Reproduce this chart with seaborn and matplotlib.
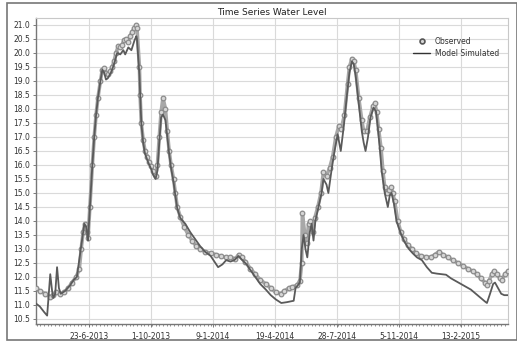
import datetime as dt
import numpy as np
import pandas as pd
import matplotlib
matplotlib.use("Agg")
import matplotlib.pyplot as plt
import matplotlib.dates as mdates
from matplotlib.lines import Line2D
from matplotlib.patches import Rectangle
from matplotlib.ticker import MultipleLocator, FormatStrFormatter
import seaborn as sns

# ---------------- data (days since start date, water level) ----------------
start_date = "2013-03-29"
end_date = "2015-04-30"

obs_day = [0, 6, 15, 23, 28, 32, 39, 45, 52, 58, 65, 70, 73, 76, 79, 83, 84, 87, 91, 94,
           97, 100, 104, 107, 110, 113, 116, 120, 123, 126, 129, 133, 136, 139, 142, 146, 149, 152, 155, 159,
           162, 163, 167, 168, 170, 173, 176, 180, 183, 186, 189, 193, 196, 199, 202, 205, 209, 212, 215, 218,
           222, 225, 228, 233, 239, 246, 252, 259, 265, 273, 282, 290, 298, 306, 314, 322, 327, 332, 338, 346,
           354, 362, 371, 379, 387, 395, 401, 408, 414, 421, 426, 429, 430, 434, 437, 440, 443, 447, 450, 455,
           460, 464, 469, 474, 479, 484, 489, 493, 498, 503, 506, 510, 513, 516, 521, 526, 529, 534, 539, 544,
           547, 550, 553, 557, 560, 563, 566, 570, 573, 576, 579, 584, 589, 594, 600, 607, 613, 621, 629, 637,
           644, 650, 657, 665, 673, 681, 689, 697, 705, 712, 718, 725, 728, 731, 736, 739, 744, 749, 752, 757,
           762]
obs_level = [11.6, 11.5, 11.4, 11.3, 11.35, 11.45, 11.4, 11.45, 11.6, 11.8, 12.0, 12.3, 13.0, 13.6, 13.9, 13.6, 13.4, 14.5, 16.0, 17.0,
             17.8, 18.4, 19.0, 19.4, 19.45, 19.3, 19.25, 19.35, 19.5, 19.7, 20.0, 20.25, 20.2, 20.3, 20.45, 20.5, 20.4, 20.6, 20.75, 20.9,
             21.0, 20.9, 19.5, 18.5, 17.5, 16.9, 16.5, 16.3, 16.1, 15.95, 15.8, 15.6, 16.0, 17.0, 17.9, 18.4, 18.0, 17.2, 16.5, 16.0,
             15.5, 15.0, 14.5, 14.15, 13.8, 13.5, 13.3, 13.1, 13.0, 12.9, 12.85, 12.8, 12.75, 12.7, 12.7, 12.65, 12.8, 12.7, 12.55, 12.3,
             12.1, 11.9, 11.75, 11.6, 11.45, 11.4, 11.5, 11.6, 11.65, 11.7, 11.85, 12.5, 14.3, 13.5, 13.2, 13.9, 14.0, 13.6, 14.1, 14.5,
             15.0, 15.75, 15.6, 15.9, 16.3, 17.0, 17.4, 17.3, 17.8, 18.9, 19.5, 19.8, 19.7, 19.4, 18.4, 17.6, 17.2, 17.2, 17.7, 18.1,
             18.2, 17.9, 17.3, 16.6, 15.8, 15.2, 15.0, 15.1, 15.2, 15.0, 14.7, 14.0, 13.6, 13.35, 13.15, 13.0, 12.85, 12.75, 12.72, 12.7,
             12.8, 12.9, 12.8, 12.7, 12.6, 12.5, 12.4, 12.3, 12.2, 12.1, 11.95, 11.8, 11.7, 11.85, 12.1, 12.2, 12.1, 11.95, 11.9, 12.1,
             12.2]

sim_day = [0, 6, 13, 18, 23, 26, 28, 31, 34, 37, 40, 47, 55, 61, 66, 71, 78, 81, 84, 87,
           91, 94, 97, 100, 104, 107, 110, 113, 116, 121, 126, 131, 136, 141, 144, 149, 154, 159, 162, 163,
           167, 170, 173, 176, 181, 186, 189, 193, 196, 199, 202, 205, 209, 212, 215, 218, 222, 225, 228, 233,
           241, 249, 257, 265, 273, 282, 288, 294, 301, 307, 314, 320, 327, 333, 340, 346, 354, 362, 371, 379,
           387, 396, 405, 416, 419, 426, 429, 432, 435, 438, 442, 445, 448, 451, 456, 461, 464, 469, 472, 477,
           482, 487, 492, 497, 502, 506, 510, 513, 516, 521, 526, 529, 532, 536, 540, 545, 549, 552, 555, 558,
           563, 568, 571, 574, 578, 582, 589, 595, 602, 608, 615, 623, 631, 639, 647, 655, 662, 670, 678, 686,
           694, 702, 710, 718, 725, 728, 733, 738, 741, 746, 751, 756, 762]
sim_level = [11.05, 10.95, 10.75, 10.62, 12.1, 11.5, 11.25, 11.4, 12.35, 11.6, 11.4, 11.5, 11.7, 11.9, 12.0, 12.8, 13.9, 13.8, 13.3, 14.5,
             16.0, 17.0, 17.8, 18.4, 19.0, 19.4, 19.3, 19.05, 19.1, 19.3, 19.6, 20.0, 19.95, 20.1, 19.95, 20.2, 20.1, 20.45, 20.6, 20.5,
             19.2, 17.5, 16.8, 16.4, 16.1, 15.85, 15.65, 15.5, 15.8, 16.8, 17.7, 17.8, 17.6, 17.0, 16.4, 15.9, 15.4, 14.9, 14.45, 14.1,
             13.9, 13.6, 13.35, 13.1, 12.9, 12.75, 12.55, 12.35, 12.45, 12.6, 12.55, 12.6, 12.75, 12.6, 12.45, 12.25, 12.0, 11.75, 11.55, 11.35,
             11.2, 11.07, 11.1, 11.15, 11.6, 11.8, 13.0, 13.5, 13.0, 12.7, 13.6, 13.9, 13.3, 14.0, 14.5, 15.0, 15.5, 15.3, 15.0, 15.8,
             16.5, 17.1, 16.5, 17.4, 18.5, 19.3, 19.7, 19.6, 19.2, 18.2, 17.2, 16.8, 16.5, 17.0, 17.7, 18.05, 17.9, 17.3, 16.6, 15.8,
             15.0, 14.5, 14.9, 15.0, 14.6, 14.0, 13.55, 13.25, 13.0, 12.85, 12.7, 12.6, 12.35, 12.15, 12.12, 12.1, 12.08, 11.95, 11.85, 11.75,
             11.65, 11.55, 11.4, 11.25, 11.12, 11.07, 11.4, 11.75, 11.8, 11.6, 11.4, 11.35, 11.35]

tick_dates = ["2013-06-23", "2013-10-01", "2014-01-09", "2014-04-19",
              "2014-07-28", "2014-11-05", "2015-02-13"]
tick_labels = ["23-6-2013", "1-10-2013", "9-1-2014", "19-4-2014",
               "28-7-2014", "5-11-2014", "13-2-2015"]

# ---------------- build frames ----------------
t0 = pd.Timestamp(start_date)
obs = pd.DataFrame({"date": t0 + pd.to_timedelta(obs_day, unit="D"), "level": obs_level})
sim = pd.DataFrame({"date": t0 + pd.to_timedelta(sim_day, unit="D"), "level": sim_level})

sns.set_theme(style="whitegrid")
plt.rcParams["font.family"] = ["DejaVu Sans"]

fig = plt.figure(figsize=(5.17, 3.43), dpi=100)
fig.patch.set_facecolor("white")
ax = fig.add_axes([36 / 517, 1 - 324 / 343, (508 - 36) / 517, (324 - 18) / 343])
ax.set_facecolor("white")

obs_col = "#8c8c8c"
sim_col = "#5a5a5a"

sns.lineplot(data=obs, x="date", y="level", ax=ax, color="#a8a8a8", lw=2.6,
             legend=False, zorder=2)
sns.scatterplot(data=obs, x="date", y="level", ax=ax, s=11, marker="o",
                facecolor="#d6d6d6", edgecolor=obs_col, linewidth=0.9,
                legend=False, zorder=3)
sns.lineplot(data=sim, x="date", y="level", ax=ax, color=sim_col, lw=1.3,
             legend=False, zorder=4)

ax.set_xlim(pd.Timestamp(start_date), pd.Timestamp(end_date))
ax.set_ylim(10.32, 21.25)
ax.yaxis.set_major_locator(MultipleLocator(0.5))
ax.yaxis.set_major_formatter(FormatStrFormatter("%.1f"))
ax.set_xticks([pd.Timestamp(d) for d in tick_dates])
ax.set_xticklabels(tick_labels)
ax.xaxis.set_minor_locator(mdates.DayLocator(interval=6))

ax.grid(True, which="major", color="#dadada", lw=0.8)
ax.grid(False, which="minor")
ax.tick_params(axis="both", which="major", labelsize=5.5, colors="#333333",
               length=2, width=0.6, pad=2, direction="out")
ax.tick_params(axis="x", which="minor", length=1.5, width=0.5, color="#666666",
               bottom=True)
ax.tick_params(axis="x", which="major", bottom=True, color="#666666", pad=4)
ax.tick_params(axis="y", which="major", left=True, color="#666666")
ax.set_xlabel("")
ax.set_ylabel("")
for s in ["left", "bottom"]:
    ax.spines[s].set_color("#777777")
    ax.spines[s].set_linewidth(1.0)
for s in ["top", "right"]:
    ax.spines[s].set_color("#c8c8c8")
    ax.spines[s].set_linewidth(0.8)

ax.set_title("Time Series Water Level", fontsize=6.5, color="#222222", pad=2)

handles = [
    Line2D([], [], ls="none", marker="o", markersize=3.5, markerfacecolor="#d6d6d6",
           markeredgecolor="#555555", markeredgewidth=1.2),
    Line2D([], [], color="#333333", lw=1.0),
]
leg = ax.legend(handles, ["Observed", "Model Simulated"], loc="upper right",
                bbox_to_anchor=(0.995, 0.96), frameon=False, fontsize=5.5,
                handlelength=2.2, handletextpad=0.6, labelspacing=0.35)
for t in leg.get_texts():
    t.set_color("#333333")

fig.add_artist(Rectangle((7 / 517, 1 - 340 / 343), (517 - 7) / 517, (340 - 3) / 343,
                         transform=fig.transFigure, fill=False, edgecolor="#777777",
                         lw=1.2))

fig.savefig("out.png", dpi=100, facecolor="white")
